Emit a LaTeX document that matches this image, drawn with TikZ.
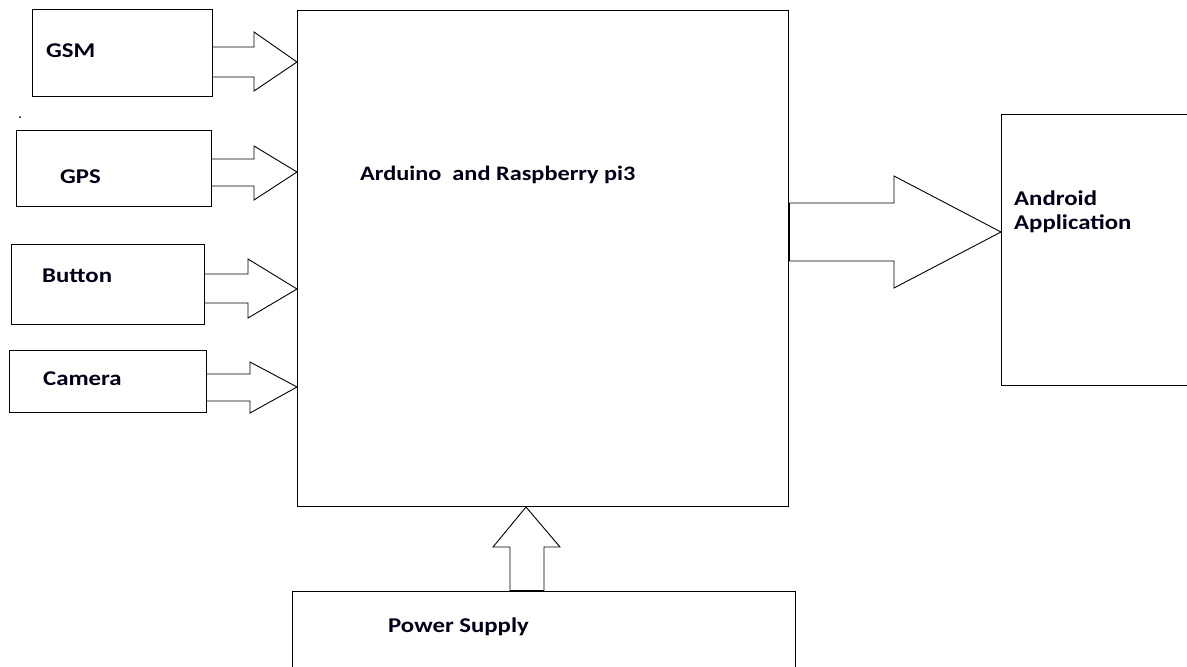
\documentclass[tikz,border=0pt]{standalone}
\usepackage{fontspec}
\setmainfont[FakeStretch=1.18]{Carlito}
\begin{document}
\begin{tikzpicture}[x=1pt,y=-1pt,
  box/.style={draw, line width=1pt, anchor=north west, inner sep=0pt},
  lbl/.style={anchor=west, font=\bfseries\fontsize{21}{24}\selectfont, inner sep=0pt, text=black!90!blue},
  blk/.style={draw, line width=0.9pt, line join=miter}]
\useasboundingbox (0,0) rectangle (1187,667);
\clip (0,0) rectangle (1187,667);
% boxes
\node[box, minimum width=180, minimum height=87] (gsm) at (32,9) {};
\node[box, minimum width=195, minimum height=76] (gps) at (16,130) {};
\node[box, minimum width=193, minimum height=80] (button) at (11,244) {};
\node[box, minimum width=197, minimum height=62] (camera) at (9,350) {};
\node[box, minimum width=491, minimum height=496] (main) at (297,10) {};
\node[box, minimum width=230, minimum height=271] (android) at (1001,114) {};
\node[box, minimum width=503, minimum height=110] (power) at (292,591) {};
% labels
\node[lbl] (gsml) at (46,51) {GSM};
\node[lbl] (gpsl) at (60,177) {GPS};
\node[lbl] (buttonl) at (42,276) {Button};
\node[lbl] (cameral) at (43,379) {Camera};
\node[lbl, font=\bfseries\fontsize{20.6}{24}\selectfont] (mainl) at (360,175) {Arduino\ \ and Raspberry pi3};
\node[lbl, align=left] (androidl) at (1014,212) {Android\\Application};
\node[lbl] (powerl) at (388,627) {Power Supply};
% stray dot
\fill (20,117) circle (1);
% block arrows
\draw[blk] (gsm.east |- 0,47) -- (254,47) -- (254,32) -- (main.west |- 0,62) -- (254,91) -- (254,77) -- (gsm.east |- 0,77);
\draw[blk] (gps.east |- 0,159) -- (254,159) -- (254,146) -- (main.west |- 0,172) -- (254,200) -- (254,186) -- (gps.east |- 0,186);
\draw[blk] (button.east |- 0,274) -- (248,274) -- (248,259) -- (main.west |- 0,289) -- (248,318) -- (248,303) -- (button.east |- 0,303);
\draw[blk] (camera.east |- 0,374) -- (250,374) -- (250,362) -- (main.west |- 0,387) -- (250,413) -- (250,401) -- (camera.east |- 0,401);
\draw[blk] (main.east |- 0,203) -- (894,203) -- (894,176) -- (android.west |- 0,232) -- (894,288) -- (894,261) -- (main.east |- 0,261);
\draw[line width=2.5pt] (main.east |- 0,203) -- (main.east |- 0,261);
\draw[blk] (power.north -| 510,0) -- (510,547) -- (493,547) -- (main.south -| 526,0) -- (560,547) -- (544,547) -- (power.north -| 544,0);
\draw[line width=1.8pt] (power.north -| 510,0) -- (power.north -| 544,0);
\end{tikzpicture}
\end{document}
